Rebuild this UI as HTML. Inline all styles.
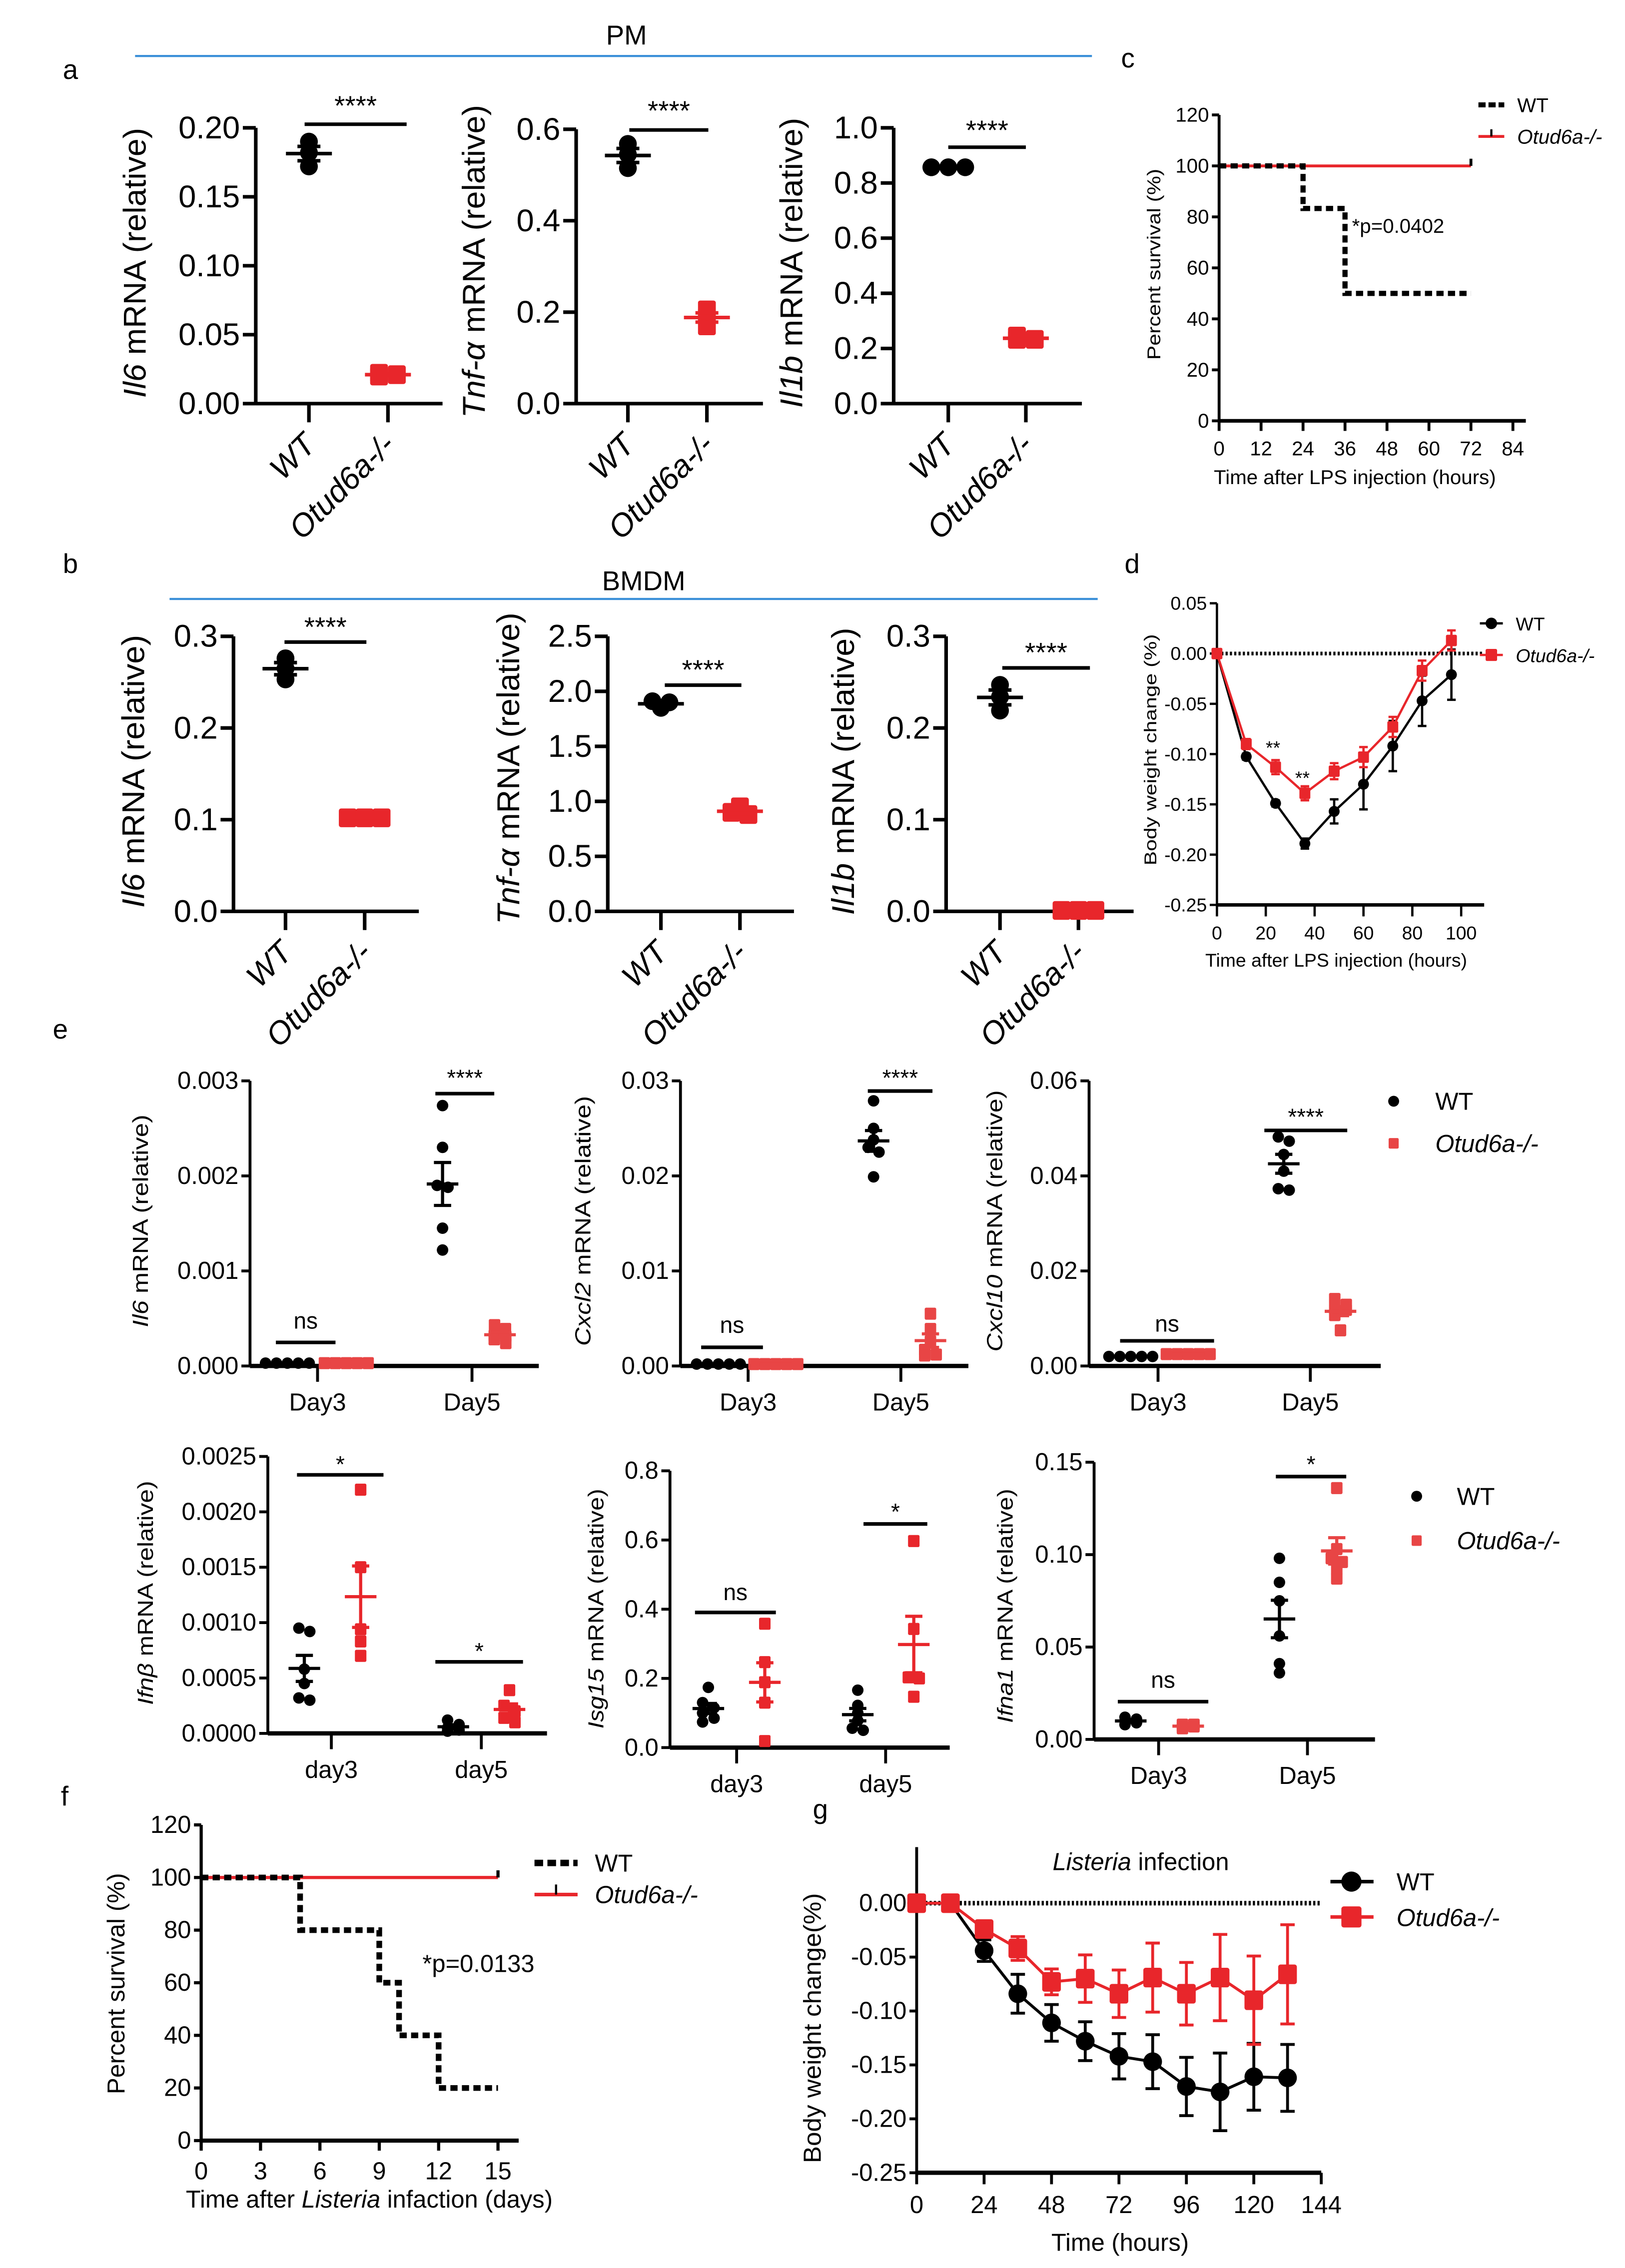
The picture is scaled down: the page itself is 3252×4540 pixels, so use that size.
<!DOCTYPE html>
<html><head><meta charset="utf-8"><style>
html,body{margin:0;padding:0;background:#fff;}
svg{display:block;font-family:"Liberation Sans",Arial,sans-serif;}
</style></head><body>
<svg id="root" xmlns="http://www.w3.org/2000/svg" viewBox="0 0 1131 1579" width="3252" height="4540">
<rect x="0" y="0" width="1131" height="1579" fill="#fff"/>
</svg>
<script>
// ---------- DATA ----------
const a1Ticks=[0,0.05,0.1,0.15,0.2], a1Labels=['0.00','0.05','0.10','0.15','0.20'];
const a1WT=[0.19,0.182,0.172], a1KO=[0.02,0.022,0.021];
const a2Ticks=[0,0.2,0.4,0.6], a2Labels=['0.0','0.2','0.4','0.6'];
const a2WT=[0.568,0.545,0.515], a2KO=[0.205,0.19,0.17];
const a3Ticks=[0,0.2,0.4,0.6,0.8,1.0], a3Labels=['0.0','0.2','0.4','0.6','0.8','1.0'];
const a3WT=[0.857,0.857,0.857], a3KO=[0.233,0.245,0.233];
const b1Ticks=[0,0.1,0.2,0.3], b1Labels=['0.0','0.1','0.2','0.3'];
const b1WT=[0.276,0.265,0.253], b1KO=[0.102,0.102,0.102];
const b2Ticks=[0,0.5,1,1.5,2,2.5], b2Labels=['0.0','0.5','1.0','1.5','2.0','2.5'];
const b2WT=[1.85,1.9,1.91], b2KO=[0.95,0.9,0.88];
const b3Ticks=[0,0.1,0.2,0.3], b3Labels=['0.0','0.1','0.2','0.3'];
const b3WT=[0.247,0.234,0.219], b3KO=[0.001,0.001,0.001];
const catLabels=['WT','Otud6a-/-'];

const cTimeTicks=[0,12,24,36,48,60,72,84], cSurvTicks=[0,20,40,60,80,100,120];
const cWTt=[0,24,36,72], cWTs=[100,83.3,50,50];
const cKOt=[0,72], cKOs=[100,100];

const dTimes=[0,12,24,36,48,60,72,84,96];
const dWT=[0,-0.1025,-0.149,-0.189,-0.157,-0.13,-0.092,-0.047,-0.021];
const dWTerr=[0,0.003,0.003,0.005,0.012,0.025,0.025,0.025,0.025];
const dKO=[0,-0.09,-0.113,-0.139,-0.117,-0.103,-0.073,-0.017,0.013];
const dKOerr=[0,0.005,0.007,0.007,0.008,0.01,0.01,0.01,0.01];
const dYTicks=[0.05,0,-0.05,-0.1,-0.15,-0.2,-0.25], dYLabels=['0.05','0.00','-0.05','-0.10','-0.15','-0.20','-0.25'];
const dXTicks=[0,20,40,60,80,100];

const e1Ticks=[0,0.001,0.002,0.003], e1Labels=['0.000','0.001','0.002','0.003'];
const e1WT3=[0.00003,0.00003,0.00003,0.00003,0.00003], e1KO3=[0.00003,0.00003,0.00003,0.00003,0.00003];
const e1WT5=[0.00274,0.0023,0.0019,0.00188,0.00145,0.00122], e1KO5=[0.00043,0.00039,0.00032,0.00028,0.00024,0.00031];
const e2Ticks=[0,0.01,0.02,0.03], e2Labels=['0.00','0.01','0.02','0.03'];
const e2WT3=[0.0002,0.0002,0.0002,0.0002,0.0002], e2KO3=[0.0002,0.0002,0.0002,0.0002,0.0002];
const e2WT5=[0.0279,0.025,0.0238,0.023,0.0225,0.0199], e2KO5=[0.0055,0.0039,0.0026,0.0017,0.0012,0.0011];
const e3Ticks=[0,0.02,0.04,0.06], e3Labels=['0.00','0.02','0.04','0.06'];
const e3WT3=[0.002,0.002,0.002,0.002,0.002], e3KO3=[0.0025,0.0025,0.0025,0.0025,0.0025];
const e3WT5=[0.0482,0.0473,0.0445,0.041,0.0373,0.037], e3KO5=[0.0141,0.0129,0.0118,0.012,0.0107,0.0075];
const e4Ticks=[0,0.0005,0.001,0.0015,0.002,0.0025], e4Labels=['0.0000','0.0005','0.0010','0.0015','0.0020','0.0025'];
const e4WT3=[0.00095,0.00092,0.00058,0.00045,0.00032,0.0003], e4KO3=[0.0022,0.0015,0.00094,0.00083,0.0007];
const e4WT5=[0.00012,0.00008,0.00005,0.00003,0.00002], e4KO5=[0.00039,0.00025,0.0002,0.00014,0.0001];
const e5Ticks=[0,0.2,0.4,0.6,0.8], e5Labels=['0.0','0.2','0.4','0.6','0.8'];
const e5WT3=[0.174,0.13,0.115,0.1,0.085,0.074], e5KO3=[0.358,0.247,0.189,0.13,0.019];
const e5WT5=[0.166,0.122,0.1,0.078,0.056,0.05], e5KO5=[0.597,0.343,0.203,0.2,0.147];
const e6Ticks=[0,0.05,0.1,0.15], e6Labels=['0.00','0.05','0.10','0.15'];
const e6WT3=[0.011,0.01,0.009,0.008,0.012], e6KO3=[0.007,0.008,0.006,0.008,0.007];
const e6WT5=[0.098,0.085,0.075,0.056,0.041,0.036], e6KO5=[0.136,0.103,0.098,0.096,0.092,0.087];

const fDayTicks=[0,3,6,9,12,15], fSurvTicks=[0,20,40,60,80,100,120];
const fWTt=[0,5,9,10,12,15], fWTs=[100,80,60,40,20,20];
const fKOt=[0,15], fKOs=[100,100];

const gTimes=[0,12,24,36,48,60,72,84,96,108,120,132];
const gWT=[0,0,-0.044,-0.084,-0.111,-0.128,-0.142,-0.147,-0.17,-0.175,-0.161,-0.162];
const gWTerr=[0,0,0.01,0.018,0.017,0.018,0.021,0.025,0.027,0.036,0.031,0.031];
const gKO=[0,0,-0.024,-0.042,-0.073,-0.07,-0.084,-0.069,-0.084,-0.069,-0.09,-0.066];
const gKOerr=[0,0,0.006,0.011,0.012,0.022,0.022,0.032,0.029,0.04,0.041,0.046];
const gYTicks=[0,-0.05,-0.1,-0.15,-0.2,-0.25], gYLabels=['0.00','-0.05','-0.10','-0.15','-0.20','-0.25'];
const gXTicks=[0,24,48,72,96,120,144];

// ---------- HELPERS ----------
const NS='http://www.w3.org/2000/svg';
const root=document.getElementById('root');
const RED='#e8262b', BLK='#000';
function mk(tag,attrs,parent){const e=document.createElementNS(NS,tag);for(const k in attrs)e.setAttribute(k,attrs[k]);(parent||root).appendChild(e);return e;}
function lin(d0,d1,r0,r1){return v=>r0+(v-d0)*(r1-r0)/(d1-d0);}
function txt(p,x,y,s,fs,anchor,extra){const t=mk('text',Object.assign({x:x,y:y,'font-size':fs,'text-anchor':anchor||'start',fill:'#000'},extra||{}),p);t.textContent=s;return t;}
function group(name){const g=mk('g',{});return g;}
function line(p,x1,y1,x2,y2,w,c){return mk('line',{x1:x1,y1:y1,x2:x2,y2:y2,stroke:c||'#000','stroke-width':w||2},p);}
function ylab(p,x,cy,len,parts,fs){
  const t=mk('text',{x:0,y:0,'font-size':fs,'text-anchor':'middle','dominant-baseline':'central',transform:`translate(${x},${cy}) rotate(-90)`,textLength:len,lengthAdjust:'spacingAndGlyphs'},p);
  
  
  parts.forEach(pt=>{const s=mk('tspan',pt[1]?{'font-style':'italic'}:{},t);s.textContent=pt[0];});
  return t;
}
function yAxis(p,x,yf,ticks,labels,fs,top,bottom,lw,tl){
  const ax=line(p,x,top,x,bottom,lw);
  
  
  ticks.forEach((t,i)=>{line(p,x-tl,yf(t),x,yf(t),lw);
    const lb=txt(p,x-tl-2,yf(t),labels[i],fs,'end',{'dominant-baseline':'central'});
    
    });
}
function swarm(vals,yf,r,th){
  const off=vals.map(()=>0);
  const idx=vals.map((v,i)=>i).sort((a,b)=>yf(vals[a])-yf(vals[b]));
  let c=[idx[0]];
  const flush=()=>{const m=c.length;
    const ys=c.map(ii=>yf(vals[ii]));const span=Math.max(...ys)-Math.min(...ys);
    if(m<=2||span<1.5) c.forEach((ii,j)=>off[ii]=(j-(m-1)/2)*r*1.9);
    else c.forEach((ii,j)=>off[ii]=(j%2?1:-1)*r*1.0);};
  for(let k=1;k<idx.length;k++){
    if(Math.abs(yf(vals[idx[k]])-yf(vals[c[c.length-1]]))<th)c.push(idx[k]);else{flush();c=[idx[k]];}
  }
  flush();return off;
}
function marker(p,x,y,r,red,name){
  let m;
  if(red){m=mk('rect',{x:x-r,y:y-r*1.05,width:2*r,height:2.1*r,rx:r*0.25,fill:red===2?'#e84545':RED},p);}
  else m=mk('circle',{cx:x,cy:y,r:r,fill:BLK},p);
  
  
  return m;
}
function dotGroup(p,cx,vals,yf,red,r,mw,cw,lw,name,th){
  const off=swarm(vals,yf,r,th);
  vals.forEach((v,i)=>marker(p,cx+off[i],yf(v),r,red,name));
  const n=vals.length, mean=vals.reduce((a,b)=>a+b,0)/n;
  const sd=Math.sqrt(vals.reduce((a,b)=>a+(b-mean)*(b-mean),0)/(n-1));
  const se=sd/Math.sqrt(n), col=red?(red===2?'#e84545':RED):BLK;
  const ml=line(p,cx-mw/2,yf(mean),cx+mw/2,yf(mean),lw,col);
  
  
  line(p,cx,yf(mean-se),cx,yf(mean+se),lw,col);
  line(p,cx-cw/2,yf(mean+se),cx+cw/2,yf(mean+se),lw,col);
  line(p,cx-cw/2,yf(mean-se),cx+cw/2,yf(mean-se),lw,col);
}
function sig(p,x1,x2,y,label,fs,ty){
  const s=line(p,x1,y,x2,y,2.5);
  
  
  const t=txt(p,(x1+x2)/2,ty,label,fs,'middle');
  
  
}

// ---------- PANELS a & b ----------
function abPanel(c){
  const g=group(c.name);
  const yf=lin(0,c.vmax,c.y0,c.y1);
  yAxis(g,c.ax,yf,c.ticks,c.labels,22,c.y1,c.y0+1,2.5,9);
  const xa=line(g,c.ax,c.y0,c.xend,c.y0,2.5);
  
  
  c.cats.forEach((cx,i)=>{line(g,cx,c.y0,cx,c.y0+13,2.5);
    const t=txt(g,cx+6,c.y0+30,catLabels[i],22,'end',{'font-style':'italic',transform:`rotate(-45 ${cx+6} ${c.y0+30})`});
    
    });
  dotGroup(g,c.cats[0],c.wt,yf,0,6.2,32,16,2.5,'point-wt',3);
  dotGroup(g,c.cats[1],c.ko,yf,1,6.2,32,16,2.5,'point-otud6a',3);
  sig(g,c.s[0],c.s[1],c.s[2],'****',19,c.s[3]+9);
  ylab(g,c.yl[0],c.yl[1],c.yl[2],c.yl[3],22);
}
abPanel({name:'panel-a-il6',ax:178,y0:281,y1:89,vmax:0.2,ticks:a1Ticks,labels:a1Labels,xend:308,cats:[215,270],wt:a1WT,ko:a1KO,s:[212,283,86.5,71],yl:[94,183,188,[['Il6',1],[' mRNA (relative)',0]]]});
abPanel({name:'panel-a-tnfa',ax:401,y0:281,y1:90,vmax:0.6,ticks:a2Ticks,labels:a2Labels,xend:531,cats:[437,492],wt:a2WT,ko:a2KO,s:[438,493,90.5,74.5],yl:[330,182,218,[['Tnf-α',1],[' mRNA (relative)',0]]]});
abPanel({name:'panel-a-il1b',ax:622,y0:281,y1:89,vmax:1.0,ticks:a3Ticks,labels:a3Labels,xend:753,cats:[660,714],wt:a3WT,ko:a3KO,s:[660,714,102.5,88],yl:[551,183,202,[['Il1b',1],[' mRNA (relative)',0]]]});
abPanel({name:'panel-b-il6',ax:162.5,y0:634.5,y1:443,vmax:0.3,ticks:b1Ticks,labels:b1Labels,xend:291.5,cats:[198.7,253.8],wt:b1WT,ko:b1KO,s:[198,255,447,434],yl:[93,537,190,[['Il6',1],[' mRNA (relative)',0]]]});
abPanel({name:'panel-b-tnfa',ax:423,y0:634.5,y1:443,vmax:2.5,ticks:b2Ticks,labels:b2Labels,xend:552.6,cats:[460,515],wt:b2WT,ko:b2KO,s:[462.7,516,477,463.7],yl:[354,535,217,[['Tnf-α',1],[' mRNA (relative)',0]]]});
abPanel({name:'panel-b-il1b',ax:658.5,y0:634.5,y1:443,vmax:0.3,ticks:b3Ticks,labels:b3Labels,xend:789,cats:[696,750.6],wt:b3WT,ko:b3KO,s:[697.6,758.6,465,451.7],yl:[587,537,200,[['Il1b',1],[' mRNA (relative)',0]]]});

// headers
(function(){
  const g=group('section-headers');
  const l1=line(g,94,39,760,39,1.5,'#3a8fd8');
  const t1=txt(g,436,31,'PM',19,'middle');
  const l2=line(g,118,417,764,417,1.5,'#3a8fd8');
  const t2=txt(g,448,411,'BMDM',19,'middle');
  [['a',49,55],['b',49,399],['c',785,47],['d',788,399],['e',42,723],['f',45,1257],['g',571,1266]].forEach(l=>{
    const t=txt(g,l[1],l[2],l[0],19,'middle');});
})();

// ---------- SURVIVAL ----------
function survival(c){
  const g=group(c.name);
  const xf=lin(0,c.xmax,c.x0,c.x1), yf=lin(0,120,c.y0,c.y1);
  yAxis(g,c.x0,yf,c.yt,c.yt.map(String),c.fs,c.y1,c.y0,c.lw,5);
  const xa=line(g,c.x0,c.y0,c.xe,c.y0,c.lw*1.3);
  c.xt.forEach(t=>{line(g,xf(t),c.y0,xf(t),c.y0+7,c.lw);
    const lb=txt(g,xf(t),c.y0+c.fs+10,String(t),c.fs,'middle');});
  const step=(t,s)=>{let d=`M${xf(t[0])},${yf(s[0])}`;for(let i=1;i<t.length;i++)d+=` H${xf(t[i])} V${yf(s[i])}`;return d;};
  const ko=mk('path',{d:step(c.kot,c.kos),fill:'none',stroke:RED,'stroke-width':c.lw},g);
  
  line(g,xf(c.kot[c.kot.length-1]),yf(100),xf(c.kot[c.kot.length-1]),yf(100)-5,c.lw);
  const wt=mk('path',{d:step(c.wtt,c.wts),fill:'none',stroke:'#000','stroke-width':c.lw*1.8,'stroke-dasharray':'5 3'},g);
  
}
survival({name:'panel-c-survival',x0:848.5,x1:1053,xmax:84,y0:293,y1:80,xe:1062,yt:cSurvTicks,xt:cTimeTicks,fs:14,lw:2,wtt:cWTt,wts:cWTs,kot:cKOt,kos:cKOs});
survival({name:'panel-f-survival',x0:140,x1:346.6,xmax:15,y0:1490.3,y1:1270.5,xe:361,yt:fSurvTicks,xt:fDayTicks,fs:17,lw:2.2,wtt:fWTt,wts:fWTs,kot:fKOt,kos:fKOs});
(function(){
  const g=group('panel-c-annotations');
  const p=txt(g,941,162,'*p=0.0402',14,'start');
  const l1=line(g,1029,73,1047,73,3.5);l1.setAttribute('stroke-dasharray','5 2');
  const t1=txt(g,1056,78,'WT',14);
  const l2=line(g,1029,95,1047,95,2,RED);
  line(g,1038,95,1038,90,1.5);
  const t2=txt(g,1056,100,'Otud6a-/-',14,'start',{'font-style':'italic'});
  ylab(g,803,184,133,[['Percent survival (%)',0]],13);
  const xl=txt(g,943,337,'Time after LPS injection (hours)',14,'middle');
})();
(function(){
  const g=group('panel-f-annotations');
  const p=txt(g,333,1373,'*p=0.0133',17,'middle');
  const l1=line(g,372,1297,402,1297,4.5);l1.setAttribute('stroke-dasharray','6 3');
  const t1=txt(g,414,1303,'WT',17);
  const l2=line(g,372,1319,402,1319,2.5,RED);
  line(g,387,1319,387,1312,1.5);
  const t2=txt(g,414,1325,'Otud6a-/-',17,'start',{'font-style':'italic'});
  ylab(g,81,1381,154,[['Percent survival (%)',0]],17);
  const xl=mk('text',{x:257,y:1537,'font-size':17,'text-anchor':'middle'},g);
  
  
  [['Time after ',0],['Listeria',1],[' infaction (days)',0]].forEach(pt=>{const s=mk('tspan',pt[1]?{'font-style':'italic'}:{},xl);s.textContent=pt[0];});
})();

// ---------- WEIGHT LINE CHARTS ----------
function weight(c){
  const g=group(c.name);
  const xf=lin(0,c.xmax,c.x0,c.x1), yf=lin(c.ymin,c.ymax,c.yb,c.yt);
  yAxis(g,c.x0,yf,c.yTicks,c.yLabels,c.fs,c.ytop,c.yb,c.lw,5);
  const xa=line(g,c.x0,c.yb,c.xe,c.yb,c.lw*1.5);
  c.xTicks.forEach(t=>{line(g,xf(t),c.yb,xf(t),c.yb+8,c.lw);
    const lb=txt(g,xf(t),c.yb+c.fs+11,String(t),c.fs,'middle');});
  const zl=line(g,c.x0,yf(0),c.xe,yf(0),c.lw*1.6);zl.setAttribute('stroke-dasharray','1.5 1.5');
  
  [[c.wt,c.wtErr,BLK,0,'wt'],[c.ko,c.koErr,RED,1,'otud6a']].forEach(s=>{
    const pts=c.t.map((t,i)=>`${xf(t)},${yf(s[0][i])}`).join(' ');
    const pl=mk('polyline',{points:pts,fill:'none',stroke:s[2],'stroke-width':c.lw},g);
    
    c.t.forEach((t,i)=>{const x=xf(t),e=s[1][i];
      if(e>0){line(g,x,yf(s[0][i]-e),x,yf(s[0][i]+e),c.lw,s[2]);
        line(g,x-c.cap,yf(s[0][i]+e),x+c.cap,yf(s[0][i]+e),c.lw,s[2]);
        line(g,x-c.cap,yf(s[0][i]-e),x+c.cap,yf(s[0][i]-e),c.lw,s[2]);}
      marker(g,x,yf(s[0][i]),c.r,s[3],'point-'+s[4]);});
  });
  return {g,xf,yf};
}
const dP=weight({name:'panel-d-weight',x0:847,x1:1017,xmax:100,yb:630,yt:420,ymin:-0.25,ymax:0.05,ytop:420,xe:1033,yTicks:dYTicks,yLabels:dYLabels,xTicks:dXTicks,fs:13,lw:1.6,cap:3,r:3.8,t:dTimes,wt:dWT,wtErr:dWTerr,ko:dKO,koErr:dKOerr});
(function(){
  const g=dP.g;
  const s1=txt(g,886,525,'**',13,'middle');
  const s2=txt(g,906.5,546,'**',13,'middle');
  line(g,1030,434,1046,434,1.6);marker(g,1038,434,4,0,'legend-wt-marker');
  const t1=txt(g,1055,439,'WT',13);
  line(g,1030,456,1046,456,1.6,RED);marker(g,1038,456,4,1,'legend-otud6a-marker');
  const t2=txt(g,1055,461,'Otud6a-/-',13,'start',{'font-style':'italic'});
  ylab(g,801,522,161,[['Body weight change (%)',0]],12);
  const xl=txt(g,930,673,'Time after LPS injection (hours)',13,'middle');
})();
const gP=weight({name:'panel-g-weight',x0:638,x1:919.6,xmax:144,yb:1512.7,yt:1325,ymin:-0.25,ymax:0,ytop:1286,xe:919.6,yTicks:gYTicks,yLabels:gYLabels,xTicks:gXTicks,fs:17,lw:2,cap:5,r:6.5,t:gTimes,wt:gWT,wtErr:gWTerr,ko:gKO,koErr:gKOerr});
(function(){
  const g=gP.g;
  const tt=mk('text',{x:794,y:1302,'font-size':17,'text-anchor':'middle'},g);
  
  
  [['Listeria',1],[' infection',0]].forEach(pt=>{const s=mk('tspan',pt[1]?{'font-style':'italic'}:{},tt);s.textContent=pt[0];});
  line(g,926,1310,956,1310,2.5);marker(g,940.6,1310,7,0,'legend-wt-marker');
  const t1=txt(g,972,1316,'WT',17);
  line(g,926,1334.6,956,1334.6,2.5,RED);marker(g,940.6,1334.6,7,1,'legend-otud6a-marker');
  const t2=txt(g,972,1341,'Otud6a-/-',17,'start',{'font-style':'italic'});
  ylab(g,565.7,1412,188,[['Body weight change(%)',0]],17);
  const xl=txt(g,779.6,1567,'Time (hours)',17,'middle');
})();

// ---------- PANEL e ----------
function ePanel(c){
  const g=group(c.name);
  const yf=lin(0,c.vmax,c.y0,c.y1);
  yAxis(g,c.ax,yf,c.ticks,c.labels,17,c.y1,c.y0,2,6);
  const xa=line(g,c.ax,c.y0,c.xend,c.y0,3);
  c.dt.forEach((x,i)=>{line(g,x,c.y0,x,c.y0+11,2);
    const lb=txt(g,x,c.y0+31,c.dl[i],17,'middle');});
  const red=c.light?2:1;
  dotGroup(g,c.px[0],c.d[0],yf,0,4,22,12,2.2,'point-wt-day3',4.5);
  dotGroup(g,c.px[1],c.d[1],yf,red,4,22,12,2.2,'point-otud6a-day3',4.5);
  dotGroup(g,c.px[2],c.d[2],yf,0,4,22,12,2.2,'point-wt-day5',4.5);
  dotGroup(g,c.px[3],c.d[3],yf,red,4,22,12,2.2,'point-otud6a-day5',4.5);
  c.sigs.forEach(s=>sig(g,s[0],s[1],s[2],s[3],16,s[4]));
  ylab(g,c.yl[0],c.yl[1],c.yl[2],c.yl[3],15);
}
ePanel({name:'panel-e-il6',ax:174,y0:951,y1:752.5,vmax:0.003,ticks:e1Ticks,labels:e1Labels,xend:375,dt:[221,328.5],dl:['Day3','Day5'],px:[200,241,308,348],d:[e1WT3,e1KO3,e1WT5,e1KO5],light:1,
  sigs:[[192,233.5,934.6,'ns',925],[303,344,761.4,'****',756]],yl:[98,850,148,[['Il6',1],[' mRNA (relative)',0]]]});
ePanel({name:'panel-e-cxcl2',ax:473.6,y0:951,y1:752.5,vmax:0.03,ticks:e2Ticks,labels:e2Labels,xend:674,dt:[520.7,627],dl:['Day3','Day5'],px:[500,540,608,647.6],d:[e2WT3,e2KO3,e2WT5,e2KO5],light:1,
  sigs:[[488,531,938,'ns',928],[604,649,759.6,'****',756]],yl:[406,850,174,[['Cxcl2',1],[' mRNA (relative)',0]]]});
ePanel({name:'panel-e-cxcl10',ax:758,y0:951,y1:752.5,vmax:0.06,ticks:e3Ticks,labels:e3Labels,xend:961,dt:[806,912],dl:['Day3','Day5'],px:[787,827,893.5,933],d:[e3WT3,e3KO3,e3WT5,e3KO5],light:1,
  sigs:[[779.6,845,933.5,'ns',927],[880,937.7,787,'****',783]],yl:[692.6,850,182,[['Cxcl10',1],[' mRNA (relative)',0]]]});
ePanel({name:'panel-e-ifnb',ax:186.4,y0:1206.8,y1:1014,vmax:0.0025,ticks:e4Ticks,labels:e4Labels,xend:380.7,dt:[230.6,335],dl:['day3','day5'],px:[211.8,251,315.5,354.6],d:[e4WT3,e4KO3,e4WT5,e4KO5],
  sigs:[[206.7,266.9,1026.8,'*',1025],[303,364,1157,'*',1155]],yl:[101.5,1109,156,[['Ifnβ',1],[' mRNA (relative)',0]]]});
ePanel({name:'panel-e-isg15',ax:466.3,y0:1216.7,y1:1024,vmax:0.8,ticks:e5Ticks,labels:e5Labels,xend:661,dt:[512.7,616.4],dl:['day3','day5'],px:[493,532.3,597,636],d:[e5WT3,e5KO3,e5WT5,e5KO5],
  sigs:[[483.7,540,1122.6,'ns',1114],[601,645.4,1061,'*',1058]],yl:[415,1120,167,[['Isg15',1],[' mRNA (relative)',0]]]});
ePanel({name:'panel-e-ifna1',ax:761.5,y0:1211,y1:1018,vmax:0.15,ticks:e6Ticks,labels:e6Labels,xend:957,dt:[806.4,910],dl:['Day3','Day5'],px:[787,827,890.5,930.4],d:[e6WT3,e6KO3,e6WT5,e6KO5],light:1,
  sigs:[[778,841,1184.7,'ns',1175],[888,937,1028,'*',1025]],yl:[700,1118,163,[['Ifna1',1],[' mRNA (relative)',0]]]});
(function(){
  const g=group('panel-e-legends');
  [[766.7,796],[1041.7,1072.6]].forEach((p,k)=>{
    const x0=k?986:970, tx=k?1014:999;
    marker(g,x0,p[0],3.8,0,'legend-wt-marker');
    const t1=txt(g,tx,p[0]+6,'WT',17);
    marker(g,x0,p[1],3.5,2,'legend-otud6a-marker');
    const t2=txt(g,tx,p[1]+6,'Otud6a-/-',17,'start',{'font-style':'italic'});
  });
})();
</script>
</body></html>
